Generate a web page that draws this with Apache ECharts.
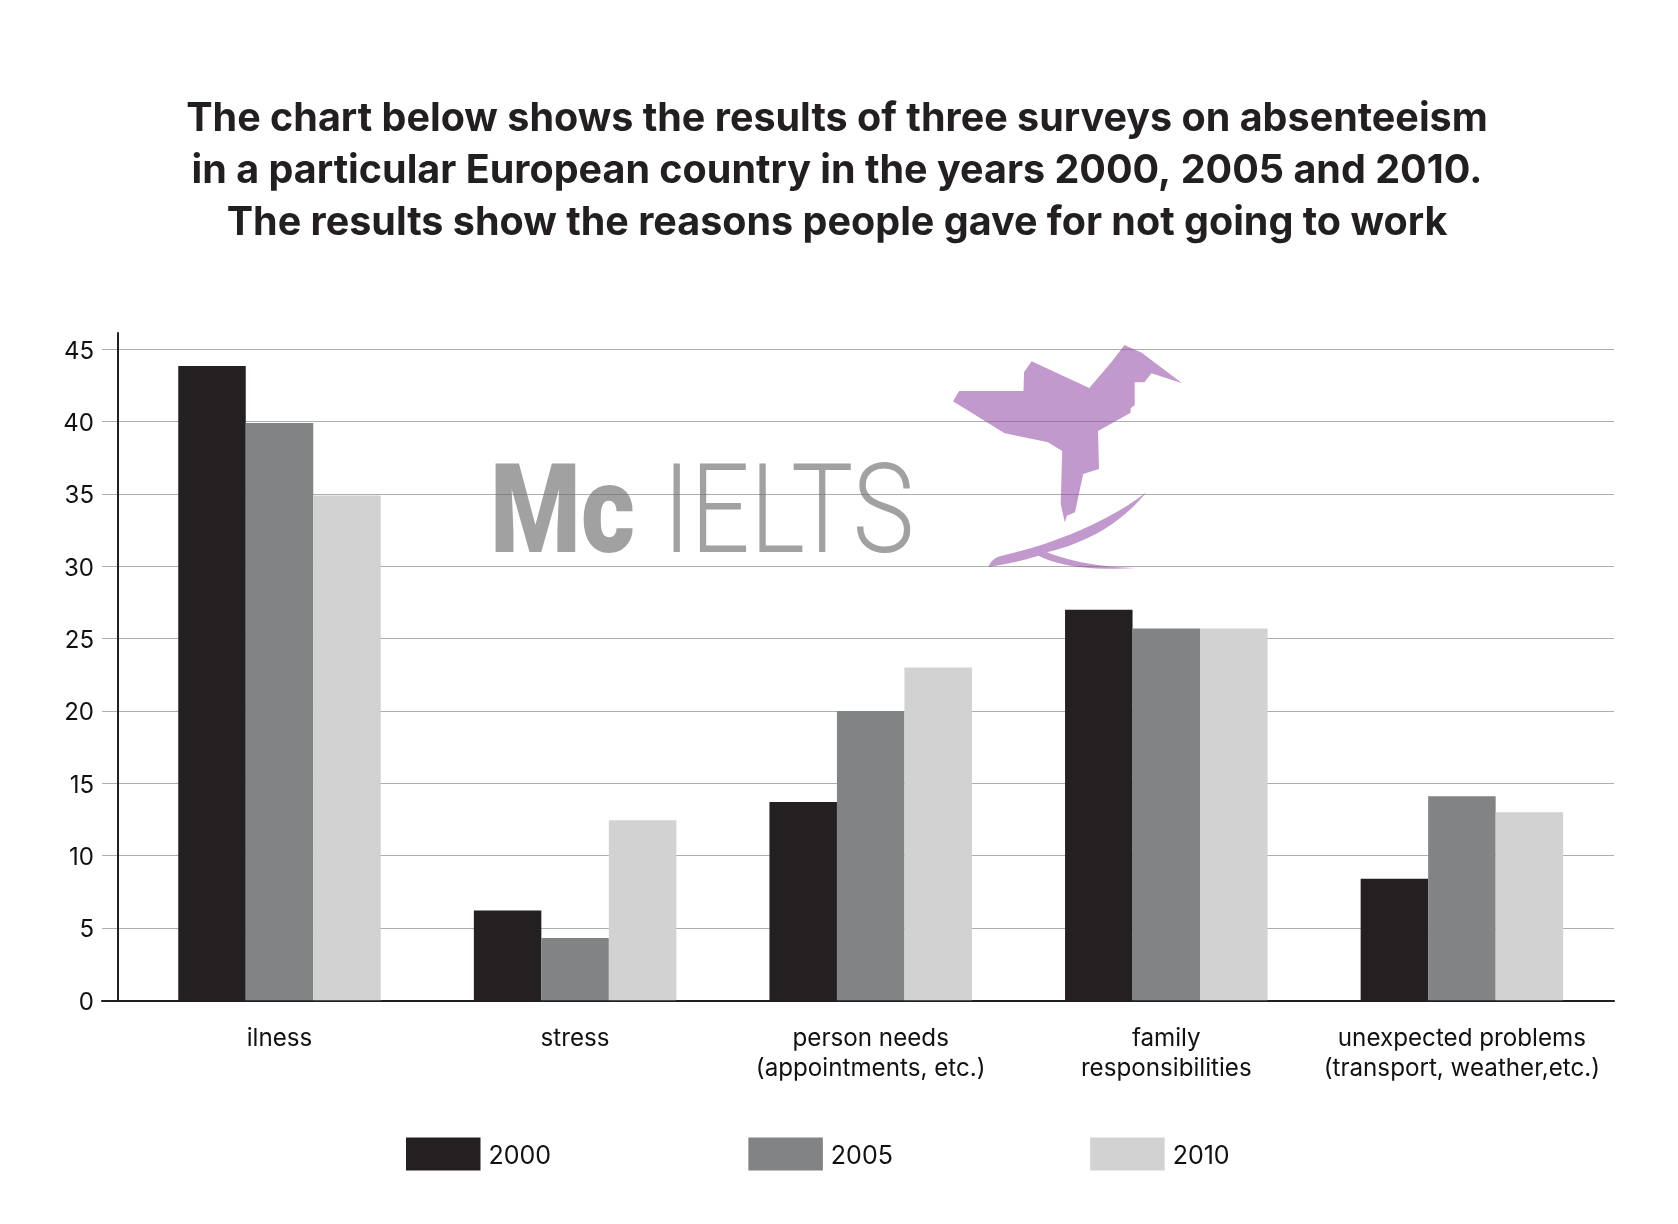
<!DOCTYPE html>
<html><head><meta charset="utf-8">
<style>html,body{margin:0;padding:0;background:#fff}#c{width:1678px;height:1224px}</style>
<script src="https://cdn.jsdelivr.net/npm/echarts@6/dist/echarts.min.js"></script>
</head><body><div id="c"></div>
<script>
const titleLines = [
  'The chart below shows the results of three surveys on absenteeism',
  'in a particular European country in the years 2000, 2005 and 2010.',
  'The results show the reasons people gave for not going to work'
];
const categories = ['ilness','stress','person needs\n(appointments, etc.)','family\nresponsibilities','unexpected problems\n(transport, weather,etc.)'];
const years = ['2000','2005','2010'];
const values2000 = [43.85, 6.2, 13.7, 27, 8.4];
const values2005 = [39.9, 4.3, 20, 25.7, 14.1];
const values2010 = [34.9, 12.45, 23, 25.7, 13];
const colors = ['#242021','#828385','#d2d2d2'];
const yMax = 46.13;
const font = 'Inter';
const birdBody = [[959.2,391],[1023.5,391],[1024,372.3],[1031.6,361.3],[1089.3,388],[1111.7,361.7],[1124.5,345],[1141.8,352.7],[1182.1,383.3],[1151.5,373.3],[1144.4,382.3],[1134.7,382.3],[1134.7,405],[1130.6,408.3],[1130.6,412.7],[1098,431],[1099,469],[1083.2,474],[1075,512.3],[1066.8,515.7],[1064.8,522.3],[1060.7,504],[1062.2,451],[1048,442.3],[1004.6,433.3],[953,401.3]];
// logo outline as quadratic segments: start point, then [ctrlX, ctrlY, endX, endY]
const swooshStart = [988.3,567];
const swooshSegments = [[992,558,1001,556],[1090,535,1146.4,492.3],[1110,537,1047,552.3],[1085,567,1136,568],[1070,572,1038.3,555.7],[1015,563,988.3,567]];
const purple = 'rgba(144,70,164,0.55)';
const logoGrey = 'rgba(110,110,110,0.65)';

function flattenOutline(start, segs){
  const pts = [start]; let p = start;
  segs.forEach(s => {
    for (let k = 1; k <= 12; k++){
      const t = k/12, u = 1-t;
      pts.push([u*u*p[0]+2*u*t*s[0]+t*t*s[2], u*u*p[1]+2*u*t*s[1]+t*t*s[3]]);
    }
    p = [s[2],s[3]];
  });
  return pts;
}

const gridTop = 333, gridBottom = 223.7;
const chart = echarts.init(document.getElementById('c'), null, {renderer:'canvas'});
chart.setOption({
  animation:false,
  backgroundColor:'#fff',
  title:{
    text:titleLines.join('\n'), left:832, top:88, textAlign:'center',
    textStyle:{fontFamily:font,fontWeight:700,fontSize:39.5,lineHeight:52,color:'#231f20'}
  },
  legend:{
    data:years, left:406, top:1137.5, padding:0, itemWidth:74.5, itemHeight:33, itemGap:197.3, icon:'rect',
    formatter:n=>'{a|'+n+'}',
    textStyle:{rich:{a:{fontFamily:font,fontSize:25,color:'#111',padding:[4,0,0,3]}}}, selectedMode:false
  },
  grid:[
    {left:102, right:64, top:gridTop, bottom:gridBottom},
    {left:131.7, width:1478, top:gridTop, bottom:gridBottom}
  ],
  xAxis:[
    {gridIndex:0,type:'category',data:categories,
      axisLine:{lineStyle:{color:'#231f20',width:2}},axisTick:{show:false},axisLabel:{show:false}},
    {gridIndex:1,type:'category',data:categories,
      axisLine:{show:false},axisTick:{show:false},
      axisLabel:{interval:0,margin:23,fontFamily:font,fontSize:24.2,lineHeight:30,color:'#111',hideOverlap:false}}
  ],
  yAxis:[
    {gridIndex:0,type:'value',min:0,max:yMax,interval:5,offset:-16,
      axisLine:{show:true,onZero:false,lineStyle:{color:'#231f20',width:2}},
      axisTick:{show:false},
      axisLabel:{margin:24,showMaxLabel:false,formatter:'{a|{value}}',
        rich:{a:{padding:[4,0,0,0],fontFamily:font,fontSize:24,color:'#111'}}},
      splitLine:{show:true,showMinLine:false,showMaxLine:false,lineStyle:{color:'#adadad',width:1}}},
    {gridIndex:1,type:'value',min:0,max:yMax,interval:5,show:false,splitLine:{show:false}}
  ],
  series:[values2000,values2005,values2010].map((d,i)=>({
    name:years[i],type:'bar',xAxisIndex:1,yAxisIndex:1,data:d,barWidth:67.5,barGap:'0%',
    itemStyle:{color:colors[i]}
  })),
  graphic:[
    {type:'text',x:490,y:458.5,scaleX:0.83,z:100,style:{text:'Mc',fontFamily:'Roboto',fontWeight:900,fontSize:125,fill:logoGrey}},
    {type:'text',x:662.7,y:458.5,scaleX:0.835,z:100,style:{text:'IELTS',fontFamily:'Roboto',fontWeight:300,fontSize:125,fill:logoGrey}},
    {type:'polygon',z:100,shape:{points:birdBody},style:{fill:purple}},
    {type:'polygon',z:100,shape:{points:flattenOutline(swooshStart,swooshSegments)},style:{fill:purple}}
  ]
});
</script></body></html>
